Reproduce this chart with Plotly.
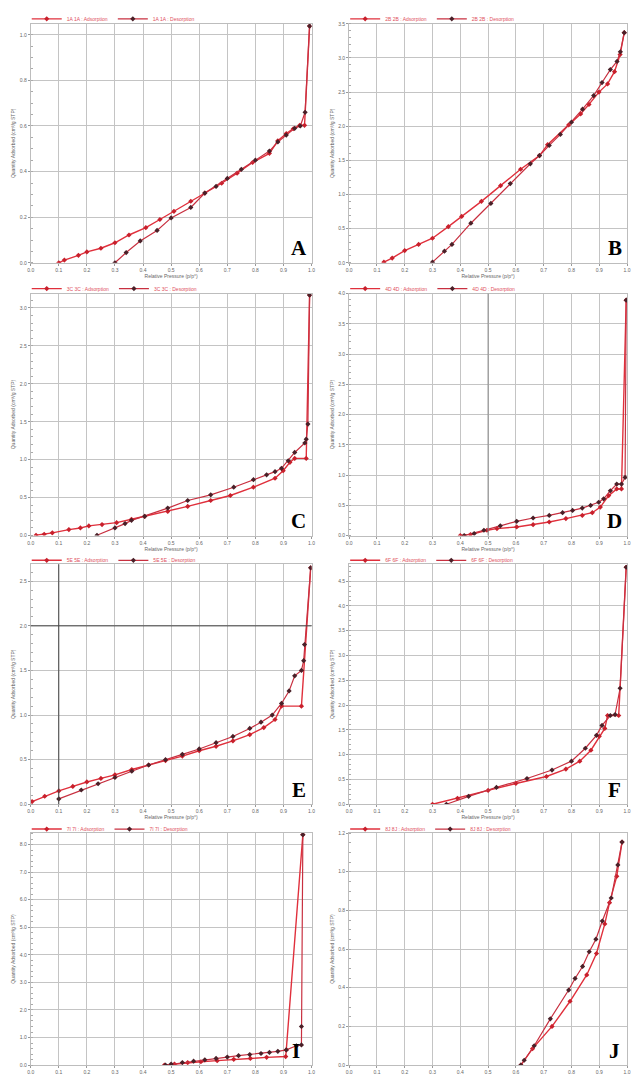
import plotly.graph_objects as go

W, H = 634, 1081

# ---------------- data ----------------
A_ads_x = [0.10, 0.12, 0.17, 0.20, 0.25, 0.30, 0.35, 0.41, 0.46, 0.51, 0.57, 0.62, 0.68, 0.735, 0.79, 0.85, 0.88, 0.91, 0.935, 0.958, 0.975, 0.993]
A_ads_y = [0.0, 0.012, 0.033, 0.048, 0.064, 0.088, 0.122, 0.154, 0.19, 0.226, 0.27, 0.306, 0.349, 0.393, 0.44, 0.48, 0.535, 0.567, 0.588, 0.603, 0.603, 1.038]
A_des_x = [0.993, 0.977, 0.96, 0.94, 0.91, 0.88, 0.85, 0.80, 0.75, 0.70, 0.66, 0.62, 0.57, 0.50, 0.45, 0.39, 0.34, 0.30]
A_des_y = [1.038, 0.66, 0.60, 0.59, 0.56, 0.53, 0.49, 0.45, 0.41, 0.37, 0.335, 0.306, 0.243, 0.197, 0.142, 0.096, 0.045, 0.0]

B_ads_x = [0.125, 0.155, 0.20, 0.25, 0.30, 0.357, 0.405, 0.476, 0.545, 0.617, 0.685, 0.714, 0.79, 0.833, 0.863, 0.899, 0.93, 0.955, 0.975, 0.99]
B_ads_y = [0.01, 0.07, 0.18, 0.27, 0.36, 0.53, 0.68, 0.90, 1.13, 1.37, 1.57, 1.73, 2.02, 2.18, 2.32, 2.50, 2.62, 2.80, 3.05, 3.37]
B_des_x = [0.99, 0.976, 0.964, 0.94, 0.91, 0.88, 0.84, 0.80, 0.76, 0.72, 0.685, 0.652, 0.58, 0.51, 0.438, 0.37, 0.343, 0.30]
B_des_y = [3.37, 3.09, 2.95, 2.83, 2.64, 2.45, 2.25, 2.06, 1.88, 1.72, 1.57, 1.45, 1.16, 0.87, 0.58, 0.27, 0.17, 0.01]

C_ads_x = [0.019, 0.048, 0.077, 0.136, 0.177, 0.207, 0.254, 0.306, 0.359, 0.406, 0.488, 0.559, 0.641, 0.711, 0.793, 0.87, 0.899, 0.923, 0.94, 0.981, 0.993]
C_ads_y = [0.004, 0.017, 0.035, 0.078, 0.10, 0.127, 0.144, 0.17, 0.214, 0.253, 0.318, 0.384, 0.462, 0.528, 0.637, 0.755, 0.855, 0.965, 1.017, 1.017, 3.17]
C_des_x = [0.993, 0.987, 0.981, 0.976, 0.94, 0.917, 0.893, 0.87, 0.84, 0.793, 0.723, 0.641, 0.559, 0.488, 0.406, 0.359, 0.336, 0.30, 0.236]
C_des_y = [3.17, 1.47, 1.27, 1.22, 1.095, 0.986, 0.886, 0.842, 0.80, 0.737, 0.637, 0.537, 0.462, 0.362, 0.253, 0.20, 0.157, 0.10, 0.004]

D_ads_x = [0.40, 0.437, 0.496, 0.532, 0.603, 0.662, 0.72, 0.78, 0.839, 0.875, 0.904, 0.934, 0.963, 0.98, 0.997]
D_ads_y = [0.0, 0.016, 0.087, 0.115, 0.142, 0.18, 0.224, 0.28, 0.333, 0.377, 0.47, 0.66, 0.77, 0.77, 3.89]
D_des_x = [0.997, 0.993, 0.98, 0.963, 0.94, 0.916, 0.898, 0.869, 0.839, 0.804, 0.768, 0.72, 0.662, 0.603, 0.544, 0.485, 0.45, 0.414]
D_des_y = [3.89, 0.96, 0.85, 0.85, 0.74, 0.607, 0.55, 0.497, 0.454, 0.415, 0.377, 0.333, 0.29, 0.235, 0.16, 0.087, 0.033, 0.0]

E_ads_x = [0.005, 0.05, 0.10, 0.15, 0.20, 0.25, 0.30, 0.36, 0.42, 0.48, 0.54, 0.60, 0.66, 0.72, 0.78, 0.83, 0.87, 0.893, 0.964, 0.997]
E_ads_y = [0.03, 0.09, 0.15, 0.20, 0.25, 0.29, 0.33, 0.39, 0.44, 0.49, 0.54, 0.60, 0.65, 0.71, 0.78, 0.86, 0.95, 1.10, 1.10, 2.65]
E_des_x = [0.997, 0.975, 0.972, 0.964, 0.94, 0.92, 0.893, 0.86, 0.82, 0.78, 0.72, 0.66, 0.60, 0.54, 0.48, 0.42, 0.36, 0.30, 0.24, 0.18, 0.10]
E_des_y = [2.65, 1.79, 1.61, 1.50, 1.44, 1.27, 1.13, 1.00, 0.92, 0.85, 0.76, 0.69, 0.62, 0.56, 0.50, 0.44, 0.37, 0.30, 0.23, 0.16, 0.06]

F_ads_x = [0.30, 0.39, 0.50, 0.60, 0.71, 0.78, 0.83, 0.87, 0.90, 0.92, 0.93, 0.97, 0.997]
F_ads_y = [0.0, 0.12, 0.28, 0.42, 0.56, 0.71, 0.87, 1.09, 1.37, 1.53, 1.79, 1.79, 4.78]
F_des_x = [0.997, 0.975, 0.957, 0.94, 0.91, 0.89, 0.85, 0.80, 0.73, 0.64, 0.53, 0.43, 0.35]
F_des_y = [4.78, 2.34, 1.81, 1.79, 1.59, 1.39, 1.13, 0.87, 0.69, 0.52, 0.34, 0.16, 0.0]

I_ads_x = [0.476, 0.512, 0.559, 0.606, 0.664, 0.723, 0.782, 0.84, 0.908, 0.91, 0.969]
I_ads_y = [0.0, 0.04, 0.09, 0.12, 0.16, 0.21, 0.24, 0.28, 0.31, 0.55, 8.36]
I_des_x = [0.969, 0.964, 0.964, 0.946, 0.91, 0.88, 0.85, 0.82, 0.78, 0.74, 0.70, 0.66, 0.62, 0.58, 0.54, 0.50, 0.48]
I_des_y = [8.36, 1.40, 0.73, 0.70, 0.55, 0.50, 0.46, 0.42, 0.38, 0.34, 0.29, 0.24, 0.19, 0.14, 0.09, 0.04, 0.0]

J_ads_x = [0.618, 0.66, 0.73, 0.795, 0.855, 0.89, 0.92, 0.937, 0.963, 0.982]
J_ads_y = [0.0, 0.085, 0.20, 0.33, 0.466, 0.577, 0.73, 0.84, 0.976, 1.153]
J_des_x = [0.982, 0.967, 0.943, 0.911, 0.888, 0.864, 0.84, 0.813, 0.79, 0.724, 0.666, 0.63, 0.618]
J_des_y = [1.153, 1.035, 0.864, 0.745, 0.651, 0.586, 0.51, 0.448, 0.388, 0.239, 0.10, 0.025, 0.0]

sample_names = ["1A 1A", "2B 2B", "3C 3C", "4D 4D", "5E 5E", "6F 6F", "7I 7I", "8J 8J"]
panel_letters = ["A", "B", "C", "D", "E", "F", "I", "J"]
y_tops = [1.048, 3.5, 3.19, 4.0, 2.69, 4.84, 8.42, 1.2]
y_dticks = [0.2, 0.5, 0.5, 0.5, 0.5, 0.5, 1.0, 0.2]
x_ticks = [0.0, 0.1, 0.2, 0.3, 0.4, 0.5, 0.6, 0.7, 0.8, 0.9, 1.0]

data = [
    (A_ads_x, A_ads_y, A_des_x, A_des_y),
    (B_ads_x, B_ads_y, B_des_x, B_des_y),
    (C_ads_x, C_ads_y, C_des_x, C_des_y),
    (D_ads_x, D_ads_y, D_des_x, D_des_y),
    (E_ads_x, E_ads_y, E_des_x, E_des_y),
    (F_ads_x, F_ads_y, F_des_x, F_des_y),
    (I_ads_x, I_ads_y, I_des_x, I_des_y),
    (J_ads_x, J_ads_y, J_des_x, J_des_y),
]

# ---------------- layout geometry (pixels) ----------------
cols_px = [(28, 312), (350, 631)]
rows_px = [(21, 262), (293, 537), (566, 808), (837, 1071)]
legend_y_px = [16, 288, 562, 833]

ADS_LINE = "#e0303c"
ADS_MARK = "#c8202c"
DES_LINE = "#c83040"
DES_MARK = "#4a2028"

fig = go.Figure()
layout = dict(
    width=W, height=H, margin=dict(l=0, r=0, t=0, b=0),
    paper_bgcolor="white", plot_bgcolor="white",
    font=dict(family="Liberation Sans", size=6, color="#555"),
    annotations=[], shapes=[],
)

for i in range(8):
    r, c = divmod(i, 2)
    (l, rr), (t, b) = cols_px[c], rows_px[r]
    xd = [l / W, rr / W]
    yd = [1 - b / H, 1 - t / H]
    n = "" if i == 0 else str(i + 1)
    xa, ya = "x" + n, "y" + n
    leg = "legend" + n
    adx, ady, ddx, ddy = data[i]
    fig.add_trace(go.Scatter(
        x=adx, y=ady, xaxis=xa, yaxis=ya, mode="lines+markers",
        name=sample_names[i] + " : Adsorption", legend=leg,
        line=dict(color=ADS_LINE, width=1.4),
        marker=dict(symbol="diamond", size=4, color=ADS_MARK)))
    fig.add_trace(go.Scatter(
        x=ddx, y=ddy, xaxis=xa, yaxis=ya, mode="lines+markers",
        name=sample_names[i] + " : Desorption", legend=leg,
        line=dict(color=DES_LINE, width=1.2),
        marker=dict(symbol="diamond", size=4, color=DES_MARK)))

    layout["xaxis" + n] = dict(
        domain=xd, anchor=ya, range=[0, 1.0], tickvals=x_ticks,
        ticktext=[f"{v:.1f}" for v in x_ticks],
        showgrid=True, gridcolor="#c4c4c4", gridwidth=0.8,
        showline=True, linecolor="#bdbdbd", linewidth=1, mirror=True,
        ticks="outside", ticklen=2, tickcolor="#999",
        tickfont=dict(size=5, color="#666"), zeroline=False,
        title=dict(text="Relative Pressure (p/p°)" if r < 3 else "",
                   font=dict(size=5, color="#666"), standoff=2),
    )
    layout["yaxis" + n] = dict(
        domain=yd, anchor=xa, range=[0, y_tops[i]], dtick=y_dticks[i],
        tick0=0, tickformat=".1f",
        showgrid=True, gridcolor="#c4c4c4", gridwidth=0.8,
        showline=True, linecolor="#bdbdbd", linewidth=1, mirror=True,
        ticks="outside", ticklen=2, tickcolor="#999",
        minor=dict(ticks="inside", ticklen=2, nticks=5, tickcolor="#aaa", showgrid=False),
        tickfont=dict(size=5, color="#666"), zeroline=False,
        title=dict(text="Quantity Adsorbed (cm³/g STP)", font=dict(size=5, color="#666"), standoff=3),
    )
    layout[leg] = dict(
        orientation="h", x=(l - 4) / W, xanchor="left",
        y=1 - legend_y_px[r] / H, yanchor="middle",
        font=dict(size=5, color="#e05060"), bgcolor="rgba(0,0,0,0)",
        itemwidth=30, tracegroupgap=0,
    )
    layout["annotations"].append(dict(
        text=f"<b>{panel_letters[i]}</b>", xref=xa + " domain", yref=ya + " domain",
        x=0.943 if panel_letters[i] == "I" else 0.955, y=0.06, xanchor="center", yanchor="middle",
        showarrow=False, font=dict(family="Liberation Serif", size=21, color="black"),
    ))

# darker reference lines seen in panels D and E
layout["shapes"] += [
    dict(type="line", xref="x4", yref="y4 domain", x0=0.5, x1=0.5, y0=0, y1=1,
         line=dict(color="#8a8a8a", width=1)),
    dict(type="line", xref="x5", yref="y5 domain", x0=0.1, x1=0.1, y0=0, y1=1,
         line=dict(color="#444", width=1)),
    dict(type="line", xref="x5 domain", yref="y5", x0=0, x1=1, y0=2.0, y1=2.0,
         line=dict(color="#444", width=1)),
]

fig.update_layout(**layout)
fig.write_html("out.html")
